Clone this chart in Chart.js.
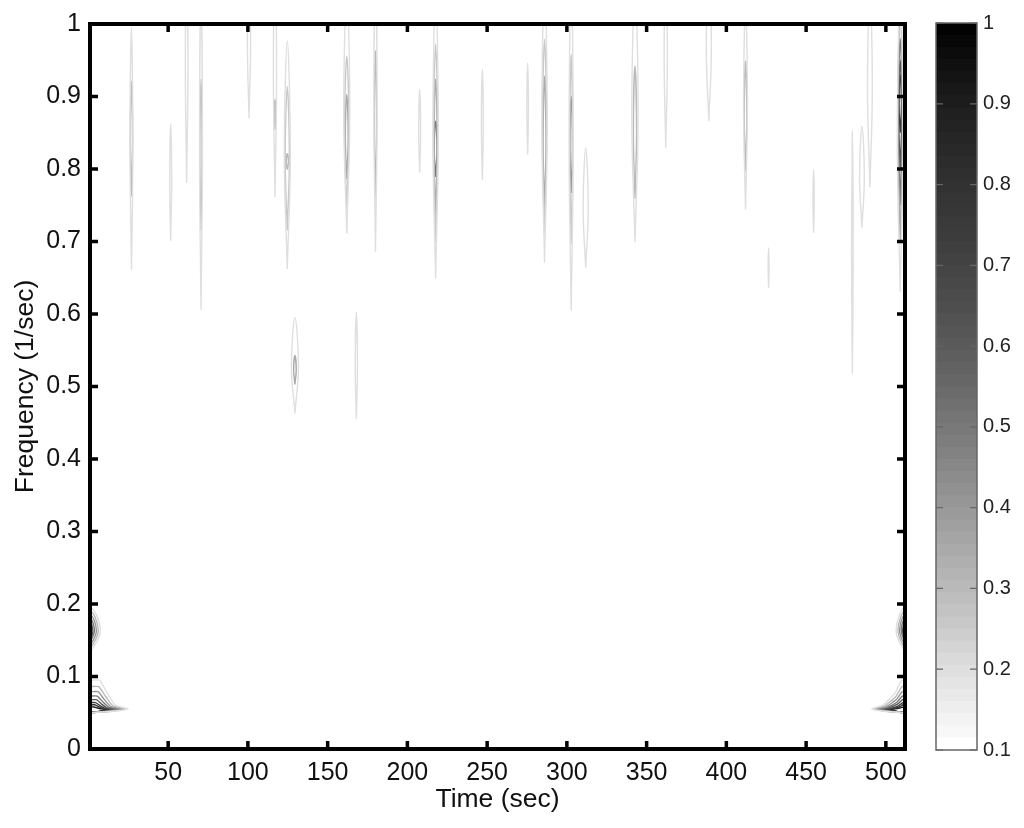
<!DOCTYPE html>
<html>
<head>
<meta charset="utf-8">
<title>Time-frequency contour plot</title>
<script src="https://cdn.jsdelivr.net/npm/chart.js@4"></script>
<style>
    html, body { margin: 0; padding: 0; background: #fff; }
    canvas { filter: blur(0.6px); }
</style>
</head>
<body>
<div style="position:absolute;left:0;top:0;width:930px;height:828px"><canvas id="contourChart"></canvas></div>
<div style="position:absolute;left:920px;top:0;width:104px;height:828px"><canvas id="colorbarChart"></canvas></div>
<script>
// Axis ticks
var timeTicks = [50, 100, 150, 200, 250, 300, 350, 400, 450, 500];
var freqTicks = [0, 0.1, 0.2, 0.3, 0.4, 0.5, 0.6, 0.7, 0.8, 0.9, 1];
var levelTicks = [0.1, 0.2, 0.3, 0.4, 0.5, 0.6, 0.7, 0.8, 0.9, 1];

// Closed contours: centre time, low and high frequency, half width (sec), level
var contourTime = [27, 27, 51.6, 61.6, 70.6, 70.6, 100.7, 117, 117, 124.7, 124.7, 124.7, 162, 162, 162, 180, 180,
    207.7, 217.7, 217.7, 217.7, 217.7, 247, 275.4, 286, 286, 286, 302.7, 302.7, 302.7, 311.8, 342.7, 342.7,
    362, 389, 412, 412, 426.5, 454.7, 479, 485, 490, 129.5, 129.5, 168,
    509, 509, 509, 509, 509,
    1, 1, 1, 1, 1, 512, 512, 512, 512, 512];
var contourLow = [0.661, 0.762, 0.701, 0.781, 0.606, 0.715, 0.87, 0.761, 0.854, 0.662, 0.715, 0.799, 0.711, 0.746, 0.786, 0.686, 0.762,
    0.795, 0.649, 0.698, 0.738, 0.789, 0.785, 0.82, 0.671, 0.708, 0.745, 0.605, 0.697, 0.767, 0.664, 0.699, 0.759,
    0.829, 0.866, 0.744, 0.797, 0.636, 0.712, 0.518, 0.719, 0.775, 0.463, 0.503, 0.455,
    0.63, 0.7, 0.75, 0.8, 0.85,
    0.132, 0.137, 0.142, 0.147, 0.15, 0.132, 0.137, 0.142, 0.147, 0.15];
var contourHigh = [0.995, 0.921, 0.862, 1.1, 1.05, 0.924, 1.08, 1.1, 0.896, 0.977, 0.914, 0.821, 1.05, 0.956, 0.903, 1.08, 0.963,
    0.91, 1.05, 0.972, 0.924, 0.866, 0.938, 0.946, 1.06, 0.979, 0.928, 1.07, 0.958, 0.9, 0.829, 1.05, 0.942,
    1.08, 1.07, 1.03, 0.949, 0.691, 0.799, 0.852, 0.859, 1.05, 0.595, 0.543, 0.602,
    1.05, 1.02, 0.98, 0.95, 0.93,
    0.195, 0.19, 0.185, 0.18, 0.175, 0.195, 0.19, 0.185, 0.18, 0.175];
var contourHalfWidth = [0.9, 0.7, 0.6, 0.8, 0.9, 0.7, 1, 1, 0.5, 1.9, 1.3, 0.7, 1.9, 1.4, 0.9, 1, 0.7,
    0.6, 1.7, 1.3, 1, 0.9, 0.6, 0.5, 1.7, 1.3, 0.9, 1.3, 0.9, 0.8, 1.6, 2, 1,
    1, 1.6, 1.2, 0.8, 0.3, 0.4, 0.5, 1.5, 1.5, 2.2, 0.8, 0.7,
    1.8, 1.5, 1.2, 1, 0.8,
    6.5, 5.2, 4, 2.8, 1.8, 5.6, 4.4, 3.4, 2.4, 1.5];
var contourLevel = [0.2, 0.3, 0.2, 0.2, 0.2, 0.3, 0.2, 0.2, 0.3, 0.2, 0.25, 0.3, 0.2, 0.25, 0.35, 0.2, 0.3,
    0.2, 0.2, 0.25, 0.35, 0.5, 0.2, 0.2, 0.2, 0.25, 0.35, 0.2, 0.25, 0.45, 0.2, 0.2, 0.3,
    0.2, 0.2, 0.2, 0.3, 0.2, 0.2, 0.2, 0.2, 0.2, 0.2, 0.35, 0.2,
    0.2, 0.35, 0.5, 0.65, 0.75,
    0.2, 0.3, 0.4, 0.5, 0.6, 0.2, 0.3, 0.4, 0.5, 0.6];

// Low frequency wedges at both edges: top frequency, reach from the edge (sec), level
var wedgeTop = [0.095, 0.086, 0.079, 0.073, 0.068, 0.064, 0.061, 0.058];
var wedgeReach = [24, 22, 20, 18, 16, 14, 12, 10];
var wedgeReachRight = [21, 19.5, 18, 16.5, 15, 13, 11, 9];
var wedgeLevel = [0.2, 0.3, 0.4, 0.5, 0.6, 0.7, 0.8, 0.9];

// Colorbar bands, white at the bottom
var bandEdges = [0.1, 0.115, 0.13, 0.145, 0.16, 0.175, 0.19, 0.205, 0.22, 0.235, 0.25, 0.265, 0.28, 0.295, 0.31,
    0.325, 0.34, 0.355, 0.37, 0.385, 0.4, 0.415, 0.43, 0.445, 0.46, 0.475, 0.49, 0.505, 0.52, 0.535, 0.55,
    0.565, 0.58, 0.595, 0.61, 0.625, 0.64, 0.655, 0.67, 0.685, 0.7, 0.715, 0.73, 0.745, 0.76, 0.775, 0.79,
    0.805, 0.82, 0.835, 0.85, 0.865, 0.88, 0.895, 0.91, 0.925, 0.94, 0.955, 0.97, 0.985, 1];
var bandGrays = [255, 248, 243, 238, 233, 228, 223,
    218, 212, 206, 200, 195, 190, 185,
    180, 175, 170, 165, 160, 155, 150,
    145, 140, 135, 130, 125, 121, 117,
    112, 107, 102, 98, 94, 90, 86,
    82, 78, 75, 72, 69, 66,
    63, 60, 58, 55, 53, 50,
    47, 44, 41, 38, 35, 32,
    28, 24, 20, 16, 12, 7, 2];

var fontName = '"Liberation Sans", Arial, sans-serif';

function grayForLevel(level) {
    var i = 0;
    while (i < bandGrays.length - 1 && bandEdges[i + 1] <= level) i++;
    var g = bandGrays[i];
    return 'rgb(' + g + ',' + g + ',' + g + ')';
}

function contourDataset(i) {
    var t = contourTime[i], lo = contourLow[i], hi = contourHigh[i], w = contourHalfWidth[i];
    var mid = (lo + hi) / 2;
    return lineDataset([
        { x: t, y: lo }, { x: t + w, y: mid }, { x: t, y: hi }, { x: t - w, y: mid }, { x: t, y: lo }
    ], contourLevel[i], 0.4);
}

function wedgeDataset(i, edge, dir, reach, shoulder) {
    var top = wedgeTop[i], r = reach[i];
    return lineDataset([
        { x: edge, y: top },
        { x: edge + dir * r * shoulder, y: top },
        { x: edge + dir * r * (shoulder + 0.2), y: 0.055 + (top - 0.055) * 0.55 },
        { x: edge + dir * r * 0.65, y: 0.055 + (top - 0.055) * 0.15 },
        { x: edge + dir * r, y: 0.055 },
        { x: edge + dir * r * 0.6, y: 0.052 },
        { x: edge, y: 0.05 }
    ], wedgeLevel[i], 0.15);
}

function lineDataset(points, level, tension) {
    return {
        data: points,
        showLine: true,
        borderColor: grayForLevel(level),
        borderWidth: 1.4,
        tension: tension,
        pointRadius: 0
    };
}

// Matlab style box with inward ticks on all sides
var boxPlugin = {
    id: 'box',
    afterDatasetsDraw: function (chart, args, opts) {
        var ctx = chart.ctx, a = chart.chartArea;
        ctx.save();
        ctx.strokeStyle = opts.color;
        ctx.lineWidth = opts.tickWidth;
        if (opts.xScale) {
            chart.scales.x.ticks.forEach(function (tick) {
                var px = chart.scales.x.getPixelForValue(tick.value);
                ctx.beginPath();
                ctx.moveTo(px, a.top); ctx.lineTo(px, a.top + opts.tickLength);
                ctx.moveTo(px, a.bottom); ctx.lineTo(px, a.bottom - opts.tickLength);
                ctx.stroke();
            });
        }
        chart.scales.y.ticks.forEach(function (tick) {
            var py = chart.scales.y.getPixelForValue(tick.value);
            ctx.beginPath();
            ctx.moveTo(a.left, py); ctx.lineTo(a.left + opts.tickLength, py);
            ctx.moveTo(a.right, py); ctx.lineTo(a.right - opts.tickLength, py);
            ctx.stroke();
        });
        ctx.lineWidth = opts.lineWidth;
        ctx.strokeRect(a.left, a.top, a.right - a.left, a.bottom - a.top);
        ctx.restore();
    }
};

document.addEventListener('DOMContentLoaded', function () {
    var datasets = [];
    contourTime.forEach(function (t, i) { datasets.push(contourDataset(i)); });
    wedgeTop.forEach(function (t, i) {
        datasets.push(wedgeDataset(i, 1, 1, wedgeReach, 0.25));
        datasets.push(wedgeDataset(i, 512, -1, wedgeReachRight, 0.1));
    });

    new Chart(document.getElementById('contourChart'), {
        type: 'scatter',
        data: { datasets: datasets },
        plugins: [boxPlugin],
        options: {
            responsive: true,
            maintainAspectRatio: false,
            animation: false,
            layout: { padding: { top: 23, right: 25, left: 0, bottom: 0 } },
            plugins: {
                legend: { display: false },
                tooltip: { enabled: false },
                box: { color: '#000', lineWidth: 4, tickWidth: 3.5, tickLength: 8, xScale: true }
            },
            scales: {
                x: {
                    type: 'linear',
                    min: 1,
                    max: 512,
                    grid: { display: false, drawTicks: false },
                    border: { display: false },
                    afterBuildTicks: function (scale) {
                        scale.ticks = timeTicks.map(function (v) { return { value: v }; });
                    },
                    afterFit: function (scale) { scale.height = 79; },
                    ticks: {
                        autoSkip: false, maxRotation: 0, padding: 9, color: '#111',
                        font: { family: fontName, size: 25 },
                        callback: function (v) { return String(v); }
                    },
                    title: {
                        display: true, text: 'Time (sec)', color: '#111', padding: { top: 0, bottom: 12 },
                        font: { family: fontName, size: 26.5 }
                    }
                },
                y: {
                    type: 'linear',
                    min: 0,
                    max: 1,
                    grid: { display: false, drawTicks: false },
                    border: { display: false },
                    afterBuildTicks: function (scale) {
                        scale.ticks = freqTicks.map(function (v) { return { value: v }; });
                    },
                    afterFit: function (scale) { scale.width = 90; },
                    ticks: {
                        autoSkip: false, padding: 9, color: '#111',
                        font: { family: fontName, size: 25 },
                        callback: function (v) { return String(v); }
                    },
                    title: {
                        display: true, text: 'Frequency (1/sec)', color: '#111', padding: { top: 10, bottom: 0 },
                        font: { family: fontName, size: 26.5 }
                    }
                }
            }
        }
    });

    // first dataset paints last, so each band starts at the bottom and the lighter one covers it: no seams
    var bands = bandGrays.map(function (g, i) {
        return {
            data: [[bandEdges[0], bandEdges[i + 1]]],
            backgroundColor: 'rgb(' + g + ',' + g + ',' + g + ')',
            borderWidth: 0,
            barPercentage: 1,
            categoryPercentage: 1
        };
    });

    new Chart(document.getElementById('colorbarChart'), {
        type: 'bar',
        data: { labels: ['level'], datasets: bands },
        plugins: [boxPlugin],
        options: {
            responsive: true,
            maintainAspectRatio: false,
            animation: false,
            grouped: false,
            layout: { padding: { top: 23, right: 0, left: 16, bottom: 78 } },
            plugins: {
                legend: { display: false },
                tooltip: { enabled: false },
                box: { color: '#666', lineWidth: 1.5, tickWidth: 1.2, tickLength: 7, xScale: false }
            },
            scales: {
                x: { display: false },
                y: {
                    position: 'right',
                    min: 0.1,
                    max: 1,
                    grid: { display: false, drawTicks: false },
                    border: { display: false },
                    afterBuildTicks: function (scale) {
                        scale.ticks = levelTicks.map(function (v) { return { value: v }; });
                    },
                    afterFit: function (scale) { scale.width = 47; },
                    ticks: {
                        autoSkip: false, padding: 6, color: '#222',
                        font: { family: fontName, size: 20 },
                        callback: function (v) { return String(v); }
                    }
                }
            }
        }
    });
});
</script>
</body>
</html>
